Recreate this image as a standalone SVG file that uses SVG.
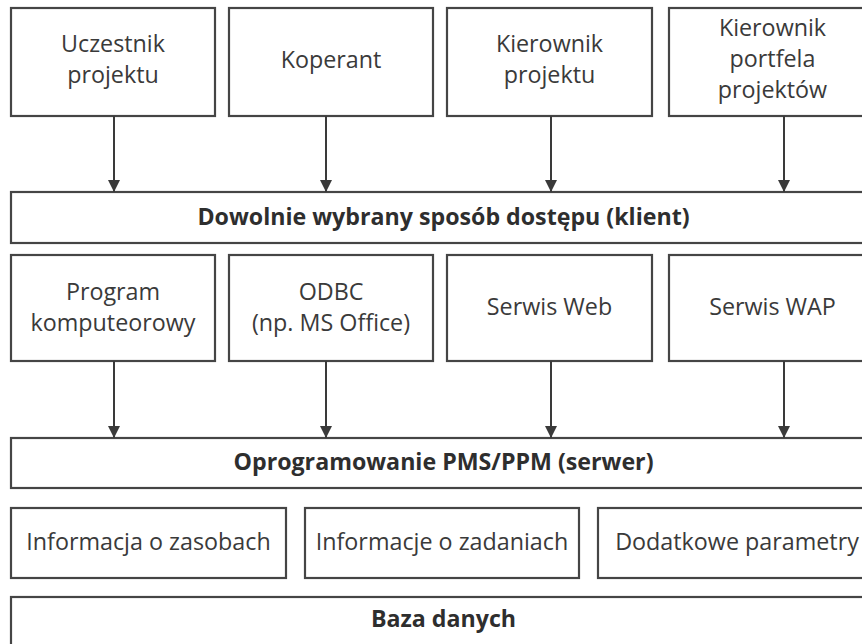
<svg xmlns="http://www.w3.org/2000/svg" width="862" height="644" viewBox="0 0 862 644">
<defs>
<style>
rect{fill:#fff;stroke:#454545;stroke-width:2.2}
text{font-family:"Open Sans","Noto Sans","Liberation Sans",sans-serif;fill:#3a3a3a;text-anchor:middle}
.r{font-size:23.3px}
.b{font-size:23.2px;font-weight:bold;fill:#2e2e2e}
.c line{stroke:#3a3a3a;stroke-width:2}
</style>
<marker id="ah" viewBox="0 0 12 12" refX="12" refY="6" markerWidth="12" markerHeight="12" markerUnits="userSpaceOnUse" orient="auto">
<path d="M0,0 L12,6 L0,12 Z" fill="#3a3a3a"/>
</marker>
</defs>
<rect width="862" height="644" style="fill:#fff;stroke:none"/>
<g id="n-uczestnik"><rect x="11" y="8" width="204" height="108"/><text class="r" x="113" y="52">Uczestnik</text><text class="r" x="113" y="83">projektu</text></g>
<g id="n-koperant"><rect x="229" y="8" width="204" height="108"/><text class="r" x="331" y="68">Koperant</text></g>
<g id="n-kierownik"><rect x="447" y="8" width="205" height="108"/><text class="r" x="549.5" y="52">Kierownik</text><text class="r" x="549.5" y="83">projektu</text></g>
<g id="n-portfel"><rect x="669" y="8" width="207" height="108"/><text class="r" x="772.5" y="36">Kierownik</text><text class="r" x="772.5" y="67">portfela</text><text class="r" x="772.5" y="98">projektów</text></g>
<g id="n-klient"><rect x="11" y="192" width="865" height="51"/><text class="b" x="443.5" y="225">Dowolnie wybrany sposób dostępu (klient)</text></g>
<g id="n-program"><rect x="11" y="255" width="204" height="106"/><text class="r" x="113" y="300">Program</text><text class="r" x="113" y="331">komputeorowy</text></g>
<g id="n-odbc"><rect x="229" y="255" width="204" height="106"/><text class="r" x="331" y="300">ODBC</text><text class="r" x="331" y="331">(np. MS Office)</text></g>
<g id="n-web"><rect x="447" y="255" width="205" height="106"/><text class="r" x="549.5" y="315">Serwis Web</text></g>
<g id="n-wap"><rect x="669" y="255" width="207" height="106"/><text class="r" x="772.5" y="315">Serwis WAP</text></g>
<g id="n-serwer"><rect x="11" y="438" width="865" height="50"/><text class="b" x="443.5" y="470">Oprogramowanie PMS/PPM (serwer)</text></g>
<g id="n-zasoby"><rect x="11" y="508" width="275" height="70"/><text class="r" x="148.5" y="550">Informacja o zasobach</text></g>
<g id="n-zadania"><rect x="305" y="508" width="274" height="70"/><text class="r" x="442" y="550">Informacje o zadaniach</text></g>
<g id="n-param"><rect x="598" y="508" width="278" height="70"/><text class="r" x="737" y="550">Dodatkowe parametry</text></g>
<g id="n-baza"><rect x="11" y="597" width="865" height="60"/><text class="b" x="443.5" y="627">Baza danych</text></g>
<g id="connectors" class="c">
<line x1="114" y1="116" x2="114" y2="192" marker-end="url(#ah)"/>
<line x1="326" y1="116" x2="326" y2="192" marker-end="url(#ah)"/>
<line x1="551" y1="116" x2="551" y2="192" marker-end="url(#ah)"/>
<line x1="784" y1="116" x2="784" y2="192" marker-end="url(#ah)"/>
<line x1="114" y1="361" x2="114" y2="438" marker-end="url(#ah)"/>
<line x1="326" y1="361" x2="326" y2="438" marker-end="url(#ah)"/>
<line x1="551" y1="361" x2="551" y2="438" marker-end="url(#ah)"/>
<line x1="784" y1="361" x2="784" y2="438" marker-end="url(#ah)"/>
</g>
</svg>
